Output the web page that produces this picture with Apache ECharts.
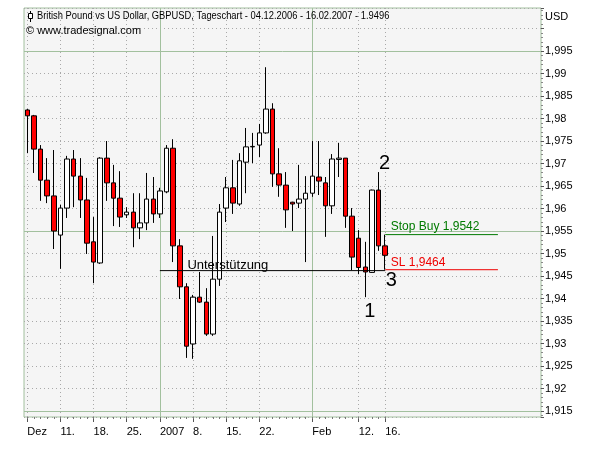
<!DOCTYPE html>
<html>
<head>
<meta charset="utf-8">
<script src="https://cdn.jsdelivr.net/npm/echarts@6/dist/echarts.min.js"></script>
<style>
  html, body { margin: 0; padding: 0; background: #fff; }
  #chart { width: 600px; height: 450px; }
</style>
</head>
<body>
<div id="chart"></div>
<script>
// GBPUSD Tageschart 04.12.2006 - 16.02.2007
const dates = [
  '04.12.', '05.12.', '06.12.', '07.12.', '08.12.', '11.12.', '12.12.', '13.12.', '14.12.', '15.12.',
  '18.12.', '19.12.', '20.12.', '21.12.', '22.12.', '25.12.', '26.12.', '27.12.', '28.12.', '29.12.',
  '01.01.', '02.01.', '03.01.', '04.01.', '05.01.', '08.01.', '09.01.', '10.01.', '11.01.', '12.01.',
  '15.01.', '16.01.', '17.01.', '18.01.', '19.01.', '22.01.', '23.01.', '24.01.', '25.01.', '26.01.',
  '29.01.', '30.01.', '31.01.', '01.02.', '02.02.', '05.02.', '06.02.', '07.02.', '08.02.', '09.02.',
  '12.02.', '13.02.', '14.02.', '15.02.', '16.02.'
]
const open = [
  1.9819, 1.9806, 1.9732, 1.9663, 1.9628, 1.9541, 1.9601, 1.9710, 1.9672, 1.9619,
  1.9526, 1.9479, 1.9712, 1.9657, 1.9623, 1.9586, 1.9592, 1.9557, 1.9568, 1.9621,
  1.9588, 1.9637, 1.9734, 1.9517, 1.9426, 1.9299, 1.9403, 1.9392, 1.9321, 1.9443,
  1.9601, 1.9646, 1.9610, 1.9703, 1.9737, 1.9741, 1.9768, 1.9821, 1.9677, 1.9652,
  1.9614, 1.9612, 1.9621, 1.9634, 1.9670, 1.9657, 1.9606, 1.9709, 1.9712, 1.9583,
  1.9534, 1.9470, 1.9458, 1.9641, 1.9517
]
const close = [
  1.9806, 1.9732, 1.9663, 1.9628, 1.9550, 1.9601, 1.9710, 1.9672, 1.9619, 1.9523,
  1.9481, 1.9712, 1.9657, 1.9623, 1.9581, 1.9592, 1.9557, 1.9568, 1.9621, 1.9588,
  1.9639, 1.9734, 1.9517, 1.9426, 1.9294, 1.9403, 1.9392, 1.9321, 1.9443, 1.9592,
  1.9646, 1.9612, 1.9706, 1.9737, 1.9738, 1.9768, 1.9821, 1.9677, 1.9652, 1.9597,
  1.9610, 1.9621, 1.9634, 1.9672, 1.9661, 1.9606, 1.9710, 1.9712, 1.9583, 1.9492,
  1.9469, 1.9459, 1.9641, 1.9517, 1.9496
]
const low = [
  1.9723, 1.9679, 1.9617, 1.9612, 1.9510, 1.9466, 1.9579, 1.9603, 1.9579, 1.9499,
  1.9434, 1.9477, 1.9617, 1.9561, 1.9559, 1.9579, 1.9514, 1.9532, 1.9552, 1.9568,
  1.9579, 1.9634, 1.9481, 1.9399, 1.9268, 1.9266, 1.9390, 1.9317, 1.9317, 1.9428,
  1.9570, 1.9588, 1.9606, 1.9634, 1.9701, 1.9714, 1.9766, 1.9648, 1.9626, 1.9557,
  1.9550, 1.9601, 1.9481, 1.9626, 1.9630, 1.9537, 1.9588, 1.9670, 1.9557, 1.9463,
  1.9454, 1.9403, 1.9457, 1.9506, 1.9464
]
const high = [
  1.9821, 1.9808, 1.9741, 1.9712, 1.9730, 1.9608, 1.9717, 1.9730, 1.9712, 1.9668,
  1.9581, 1.9714, 1.9750, 1.9697, 1.9683, 1.9603, 1.9634, 1.9634, 1.9679, 1.9670,
  1.9646, 1.9741, 1.9754, 1.9532, 1.9434, 1.9408, 1.9459, 1.9423, 1.9539, 1.9610,
  1.9670, 1.9708, 1.9723, 1.9779, 1.9768, 1.9788, 1.9914, 1.9834, 1.9734, 1.9681,
  1.9615, 1.9697, 1.9672, 1.9750, 1.9750, 1.9670, 1.9721, 1.9746, 1.9712, 1.9601,
  1.9552, 1.9526, 1.9642, 1.9681, 1.9542
]

// x axis labels (index into dates)
const tickIdx = [0, 5, 10, 15, 20, 25, 30, 35, 43, 50, 54]
const tickText = ['Dez', '11.', '18.', '25.', '2007', '8.', '15.', '22.', 'Feb', '12.', '16.']
const monthIdx = [20, 43]
const solidLevels = [1.915, 1.955, 1.995]

// drawn lines
const support = 1.9462
const supportFrom = 20
const stopBuy = 1.9542
const stopLoss = 1.9464
const orderFrom = 54
const orderTo = 71
const padCount = 23

const FONT = 'Liberation Sans, Arial, sans-serif'
const GREEN = '#a2c09e'
const DOT = '#a9a9a9'

const axisData = dates.concat(Array.from({ length: padCount }, (_, i) => 'p' + i))
const labelFor = {}
tickIdx.forEach((i, k) => { labelFor[dates[i]] = tickText[k] })
const candles = dates.map((d, i) => [open[i], close[i], low[i], high[i]])

const gridLines = []
solidLevels.forEach(v => gridLines.push({ yAxis: v, lineStyle: { color: GREEN, type: 'solid', width: 1 } }))
tickIdx.forEach(i => {
  const solid = monthIdx.indexOf(i) >= 0
  gridLines.push({
    xAxis: dates[i],
    lineStyle: solid ? { color: GREEN, type: 'solid', width: 1 } : { color: DOT, type: [1, 3], width: 1 }
  })
})

const chart = echarts.init(document.getElementById('chart'))

const option = {
  animation: false,
  backgroundColor: '#fff',
  grid: {
    left: 24, right: 59, top: 8, bottom: 33,
    show: true, backgroundColor: '#f5f5f5', borderColor: GREEN, borderWidth: 1
  },
  xAxis: [
    {
      type: 'category',
      data: axisData,
      boundaryGap: true,
      axisLine: { show: false },
      axisTick: {
        show: true, alignWithLabel: true, length: 5,
        interval: (i, v) => labelFor[v] !== undefined,
        lineStyle: { color: '#555' }
      },
      axisLabel: {
        interval: (i, v) => labelFor[v] !== undefined,
        formatter: v => labelFor[v] || '',
        align: 'left', margin: 9,
        color: '#000', fontSize: 11, fontFamily: FONT
      },
      splitLine: { show: false }
    },
    {
      type: 'category',
      data: axisData,
      position: 'bottom',
      boundaryGap: true,
      axisLine: { show: false },
      axisTick: {
        show: true, alignWithLabel: true, length: 2,
        interval: i => i < dates.length,
        lineStyle: { color: '#777' }
      },
      axisLabel: { show: false },
      splitLine: { show: false }
    }
  ],
  yAxis: {
    type: 'value',
    position: 'right',
    min: 1.91367,
    max: 2.00456,
    splitNumber: 18,
    axisLine: { show: false },
    axisTick: { show: true, length: 3, lineStyle: { color: '#555' } },
    minorTick: { show: true, splitNumber: 5, length: 2, lineStyle: { color: '#888' } },
    axisLabel: {
      margin: 4, color: '#000', fontSize: 11, fontFamily: FONT,
      showMinLabel: false, showMaxLabel: false,
      formatter: v => {
        if (Math.abs(v * 200 - Math.round(v * 200)) > 1e-6 || v > 1.9999) return ''
        return String(+v.toFixed(4)).replace('.', ',')
      }
    },
    splitLine: { show: true, lineStyle: { color: DOT, type: [1, 3], width: 1 } }
  },
  series: [
    {
      type: 'line',
      data: [],
      z: 1,
      silent: true,
      markLine: { z: 1, precision: 5, silent: true, symbol: 'none', label: { show: false }, data: gridLines }
    },
    {
      type: 'candlestick',
      data: candles,
      xAxisIndex: 0,
      barWidth: 5,
      z: 2,
      itemStyle: {
        color: '#ffffff', color0: '#ff0000',
        borderColor: '#000', borderColor0: '#000', borderColorDoji: '#000',
        borderWidth: 1
      }
    },
    {
      type: 'line',
      data: [[supportFrom, support], [orderFrom, support]],
      symbol: 'none', z: 3, silent: true,
      lineStyle: { color: '#000', width: 1 }
    },
    {
      type: 'line',
      data: [[orderFrom, stopBuy], [orderTo, stopBuy]],
      symbol: 'none', z: 3, silent: true,
      lineStyle: { color: '#007a00', width: 1 }
    },
    {
      type: 'line',
      data: [[orderFrom, stopLoss], [orderTo, stopLoss]],
      symbol: 'none', z: 3, silent: true,
      lineStyle: { color: '#ee0000', width: 1 }
    }
  ]
}
chart.setOption(option)

// annotations tied to chart coordinates
const at = (i, v) => chart.convertToPixel({ xAxisIndex: 0, yAxisIndex: 0 }, [i, v])
const txt = (p, dx, dy, text, size, fill, align) => ({
  type: 'text', z: 100,
  x: p[0] + dx, y: p[1] + dy,
  style: { text: text, font: size + 'px ' + FONT, fill: fill, align: align || 'left', verticalAlign: 'middle' }
})

chart.setOption({
  graphic: [
    { type: 'line', z: 100, shape: { x1: 30.5, y1: 11, x2: 30.5, y2: 22 }, style: { stroke: '#000', lineWidth: 1 } },
    { type: 'rect', z: 101, shape: { x: 28.5, y: 13.5, width: 4, height: 5 }, style: { fill: '#fff', stroke: '#000', lineWidth: 1 } },
    { type: 'text', z: 100, x: 37, y: 16, scaleX: 0.85, style: { text: 'British Pound vs US Dollar, GBPUSD, Tageschart - 04.12.2006 - 16.02.2007 - 1.9496', font: '11px ' + FONT, fill: '#000', verticalAlign: 'middle' } },
    { type: 'text', z: 100, x: 26, y: 31, style: { text: '© www.tradesignal.com', font: '11px ' + FONT, fill: '#000', verticalAlign: 'middle' } },
    { type: 'text', z: 100, x: 545, y: 17, style: { text: 'USD', font: '11px ' + FONT, fill: '#000', verticalAlign: 'middle' } },
    txt(at(24, support), 1, -5, 'Unterstützung', 13, '#000'),
    txt(at(orderFrom, stopBuy), 5.5, -8, 'Stop Buy 1,9542', 12, '#007a00'),
    txt(at(orderFrom, stopLoss), 5.5, -7, 'SL 1,9464', 12, '#ee0000'),
    txt(at(53, high[53]), 6, -9, '2', 20, '#000', 'center'),
    txt(at(51, low[51]), 4.5, 14, '1', 20, '#000', 'center'),
    txt(at(orderFrom, stopLoss), 6, 11, '3', 20, '#000', 'center')
  ]
})
</script>
</body>
</html>
